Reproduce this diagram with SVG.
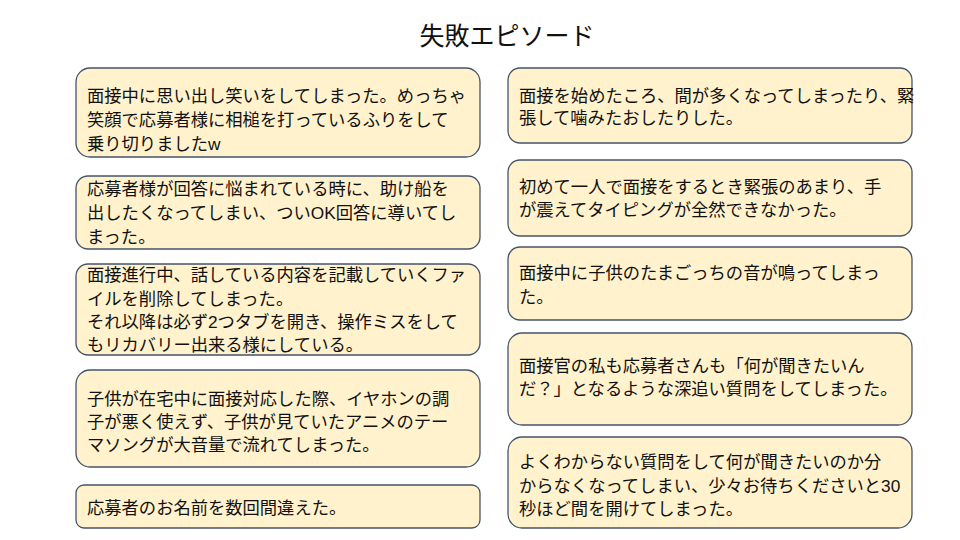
<svg xmlns="http://www.w3.org/2000/svg" width="960" height="540" viewBox="0 0 960 540">
<style>
.b{fill:#FFF2CC;stroke:#44546A;stroke-width:1.3}
.t{font-family:"Liberation Sans","Noto Sans CJK JP",sans-serif;font-size:17.3px;fill:#111}
.h{font-family:"Liberation Sans","Noto Sans CJK JP",sans-serif;font-size:25px;fill:#111;text-anchor:middle}
</style>
<rect width="960" height="540" fill="#fff"/>
<text class="h" x="507" y="45">失敗エピソード</text>
<g id="L1"><rect class="b" x="76" y="68" width="404" height="89" rx="14"/><text class="t" x="87" y="102">面接中に思い出し笑いをしてしまった。めっちゃ</text><text class="t" x="87" y="126">笑顔で応募者様に相槌を打っているふりをして</text><text class="t" x="87" y="150">乗り切りましたw</text></g>
<g id="L2"><rect class="b" x="76" y="176" width="404" height="73" rx="12"/><text class="t" x="87" y="195">応募者様が回答に悩まれている時に、助け船を</text><text class="t" x="87" y="219">出したくなってしまい、ついOK回答に導いてし</text><text class="t" x="87" y="243">まった。</text></g>
<g id="L3"><rect class="b" x="76" y="264" width="404" height="91" rx="12"/><text class="t" x="87" y="281">面接進行中、話している内容を記載していくファ</text><text class="t" x="87" y="305">イルを削除してしまった。</text><text class="t" x="87" y="328">それ以降は必ず2つタブを開き、操作ミスをして</text><text class="t" x="87" y="351">もリカバリー出来る様にしている。</text></g>
<g id="L4"><rect class="b" x="76" y="370" width="404" height="97" rx="14"/><text class="t" x="87" y="405">子供が在宅中に面接対応した際、イヤホンの調</text><text class="t" x="87" y="428">子が悪く使えず、子供が見ていたアニメのテー</text><text class="t" x="87" y="451">マソングが大音量で流れてしまった。</text></g>
<g id="L5"><rect class="b" x="76" y="485" width="404" height="43" rx="8"/><text class="t" x="87" y="514">応募者のお名前を数回間違えた。</text></g>
<g id="R1"><rect class="b" x="508" y="68" width="404" height="75" rx="12"/><text class="t" x="519" y="102">面接を始めたころ、間が多くなってしまったり、緊</text><text class="t" x="519" y="124">張して噛みたおしたりした。</text></g>
<g id="R2"><rect class="b" x="508" y="160" width="404" height="76" rx="12"/><text class="t" x="519" y="193">初めて一人で面接をするとき緊張のあまり、手</text><text class="t" x="519" y="216">が震えてタイピングが全然できなかった。</text></g>
<g id="R3"><rect class="b" x="508" y="247" width="404" height="73" rx="12"/><text class="t" x="519" y="279">面接中に子供のたまごっちの音が鳴ってしまっ</text><text class="t" x="519" y="303">た。</text></g>
<g id="R4"><rect class="b" x="508" y="333" width="404" height="92" rx="14"/><text class="t" x="519" y="372">面接官の私も応募者さんも「何が聞きたいん</text><text class="t" x="519" y="395">だ？」となるような深追い質問をしてしまった。</text></g>
<g id="R5"><rect class="b" x="508" y="437" width="404" height="91" rx="14"/><text class="t" x="519" y="468">よくわからない質問をして何が聞きたいのか分</text><text class="t" x="519" y="492">からなくなってしまい、少々お待ちくださいと30</text><text class="t" x="519" y="515">秒ほど間を開けてしまった。</text></g>
<g id="connectors"/>
</svg>
